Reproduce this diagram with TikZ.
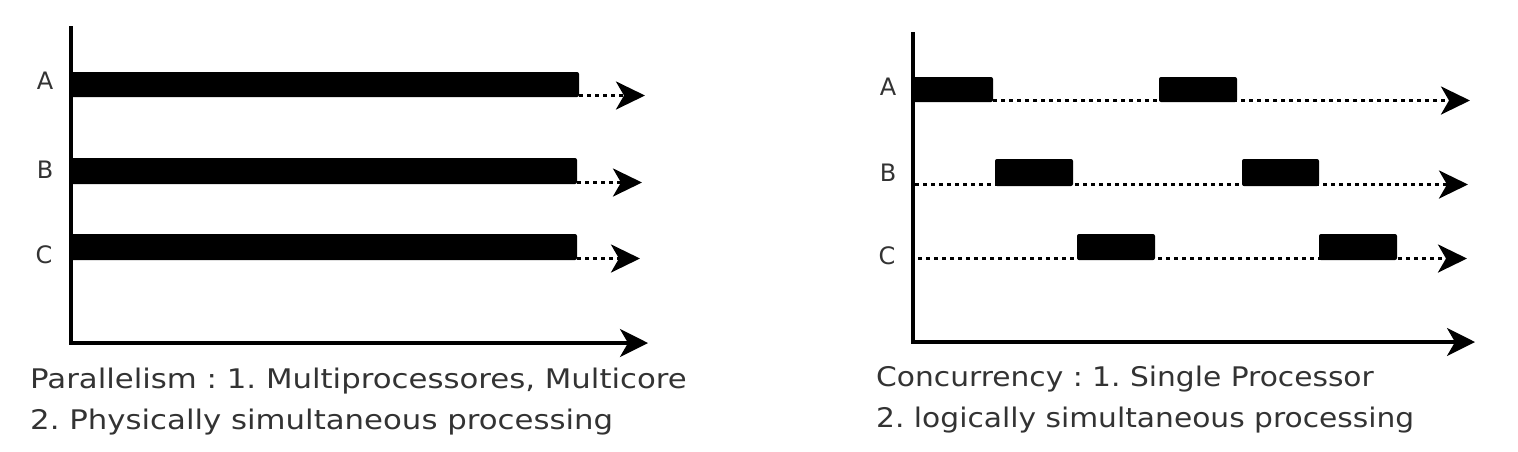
\documentclass[tikz,border=0pt]{standalone}
\usepackage{fontspec}
\setmainfont{DejaVu Sans}
\usetikzlibrary{arrows.meta}
\frenchspacing
\newcommand{\wideL}[1]{\scalebox{1.14}[1]{#1}}
\newcommand{\wideR}[1]{\scalebox{1.10}[1]{#1}}
\begin{document}
\begin{tikzpicture}[x=1pt,y=-1pt,
  axis/.style={line width=3.5pt,-{Stealth[length=28pt,width=28pt,inset=8pt]}},
  dotline/.style={line width=3.5pt,dash pattern=on 3.5pt off 4.5pt,-{Stealth[length=29pt,width=28pt,inset=8pt]}},
  bar/.style={fill=black,rounded corners=2pt},
  lbl/.style={font=\fontsize{24}{24}\selectfont,text=black!80},
  captext/.style={font=\fontsize{27}{27}\selectfont\frenchspacing,text=black!80,anchor=base west,inner sep=0pt}]
\useasboundingbox (0,0) rectangle (1518,451);
% ---------- left panel ----------
\coordinate (LT) at (71,26);
\coordinate (LO) at (71,343);
\coordinate (LR) at (648,343);
\draw[axis] (LT) -- (LO) -- (LR);
\fill[bar] (70,72) rectangle (579,97);
\fill[bar] (70,158) rectangle (577,184);
\fill[bar] (70,234) rectangle (577,260);
\coordinate (LAs) at (579,95.5); \coordinate (LAe) at (645,95.5);
\coordinate (LBs) at (577,182.5); \coordinate (LBe) at (642,182.5);
\coordinate (LCs) at (577,258.5); \coordinate (LCe) at (640,258.5);
\draw[dotline] (LAs) -- (LAe);
\draw[dotline] (LBs) -- (LBe);
\draw[dotline] (LCs) -- (LCe);
\node[lbl] (la) at (45,81) {A};
\node[lbl] (lb) at (45,170) {B};
\node[lbl] (lc) at (44,255) {C};
\node[captext] (lt1) at (30,388) {\wideL{Parallelism : 1. Multiprocessores, Multicore}};
\node[captext] (lt2) at (30,429) {\wideL{2. Physically simultaneous processing}};
% ---------- right panel ----------
\coordinate (RT) at (913,32);
\coordinate (RO) at (913,342);
\coordinate (RR) at (1475,342);
\draw[axis] (RT) -- (RO) -- (RR);
\coordinate (RAs) at (913,100.5); \coordinate (RAe) at (1470,100.5);
\coordinate (RBs) at (915,184.5); \coordinate (RBe) at (1468,184.5);
\coordinate (RCs) at (918,258.5); \coordinate (RCe) at (1467,258.5);
\draw[dotline] (RAs) -- (RAe);
\draw[dotline] (RBs) -- (RBe);
\draw[dotline] (RCs) -- (RCe);
\fill[bar] (913,77) rectangle (993,102);
\fill[bar] (1159,77) rectangle (1237,102);
\fill[bar] (995,159) rectangle (1073,186);
\fill[bar] (1242,159) rectangle (1319,186);
\fill[bar] (1077,234) rectangle (1155,260);
\fill[bar] (1319,234) rectangle (1397,260);
\node[lbl] (ra) at (888,87) {A};
\node[lbl] (rb) at (888,173) {B};
\node[lbl] (rc) at (887,256) {C};
\node[captext] (rt1) at (876,386) {\wideR{Concurrency : 1. Single Processor}};
\node[captext] (rt2) at (876,427) {\wideR{2. logically simultaneous processing}};
\end{tikzpicture}
\end{document}
